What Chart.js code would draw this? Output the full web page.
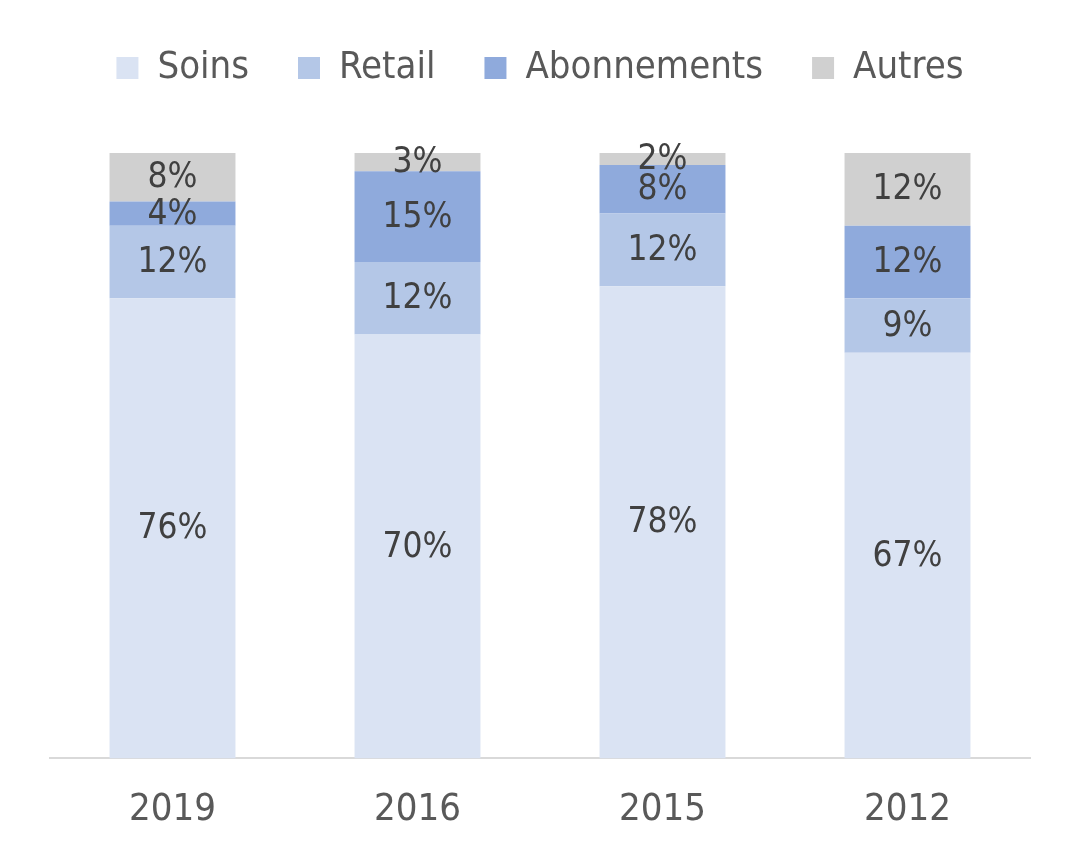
<!DOCTYPE html>
<html>
<head>
<meta charset="utf-8">
<script src="https://cdn.jsdelivr.net/npm/chart.js@4"></script>
<style>
  html, body { margin: 0; padding: 0; background: #fff; }
  #wrap { width: 1080px; height: 861px; }
</style>
</head>
<body>
<div id="wrap"><canvas id="myChart" width="1080" height="861"></canvas></div>
<script>
const years = ["2019", "2016", "2015", "2012"];
const soins = [76, 70, 78, 67];
const retail = [12, 12, 12, 9];
const abonnements = [4, 15, 8, 12];
const autres = [8, 3, 2, 12];

const FONT = "'DejaVu Sans Condensed', 'DejaVu Sans', sans-serif";

// draws the % in the middle of each segment
const segmentLabels = {
  id: "segmentLabels",
  afterDatasetsDraw(chart) {
    const ctx = chart.ctx;
    ctx.save();
    ctx.font = "35px " + FONT;
    ctx.fillStyle = "#404040";
    ctx.textAlign = "center";
    ctx.textBaseline = "middle";
    chart.data.datasets.forEach((ds, i) => {
      const meta = chart.getDatasetMeta(i);
      meta.data.forEach((bar, j) => {
        const mid = (bar.y + bar.base) / 2;
        ctx.fillText(ds.data[j] + "%", bar.x, mid + 1);
      });
    });
    ctx.restore();
  }
};

// extra room under the legend
const legendGap = {
  id: "legendGap",
  beforeInit(chart) {
    const fit = chart.legend.fit;
    chart.legend.fit = function () {
      fit.bind(chart.legend)();
      this.height += 56;
    };
  }
};

new Chart(document.getElementById("myChart").getContext("2d"), {
  type: "bar",
  data: {
    labels: years,
    datasets: [
      { label: "Soins", data: soins, backgroundColor: "#dae3f3" },
      { label: "Retail", data: retail, backgroundColor: "#b4c7e7" },
      { label: "Abonnements", data: abonnements, backgroundColor: "#8faadc" },
      { label: "Autres", data: autres, backgroundColor: "#d0d0d0" }
    ]
  },
  options: {
    responsive: false,
    animation: false,
    layout: { padding: { left: 50, right: 50, top: 0, bottom: 0 } },
    datasets: { bar: { categoryPercentage: 1, barPercentage: 0.514 } },
    plugins: {
      legend: {
        position: "top",
        labels: {
          boxWidth: 22,
          boxHeight: 22,
          padding: 49,
          color: "#595959",
          font: { family: FONT, size: 38 }
        }
      },
      tooltip: { enabled: false }
    },
    scales: {
      x: {
        stacked: true,
        grid: { display: false, drawTicks: false },
        border: { color: "#d9d9d9", width: 2 },
        ticks: { color: "#595959", font: { family: FONT, size: 38 }, padding: 28.5 }
      },
      y: {
        stacked: true,
        min: 0,
        max: 100,
        display: false
      }
    }
  },
  plugins: [segmentLabels, legendGap]
});
</script>
</body>
</html>
